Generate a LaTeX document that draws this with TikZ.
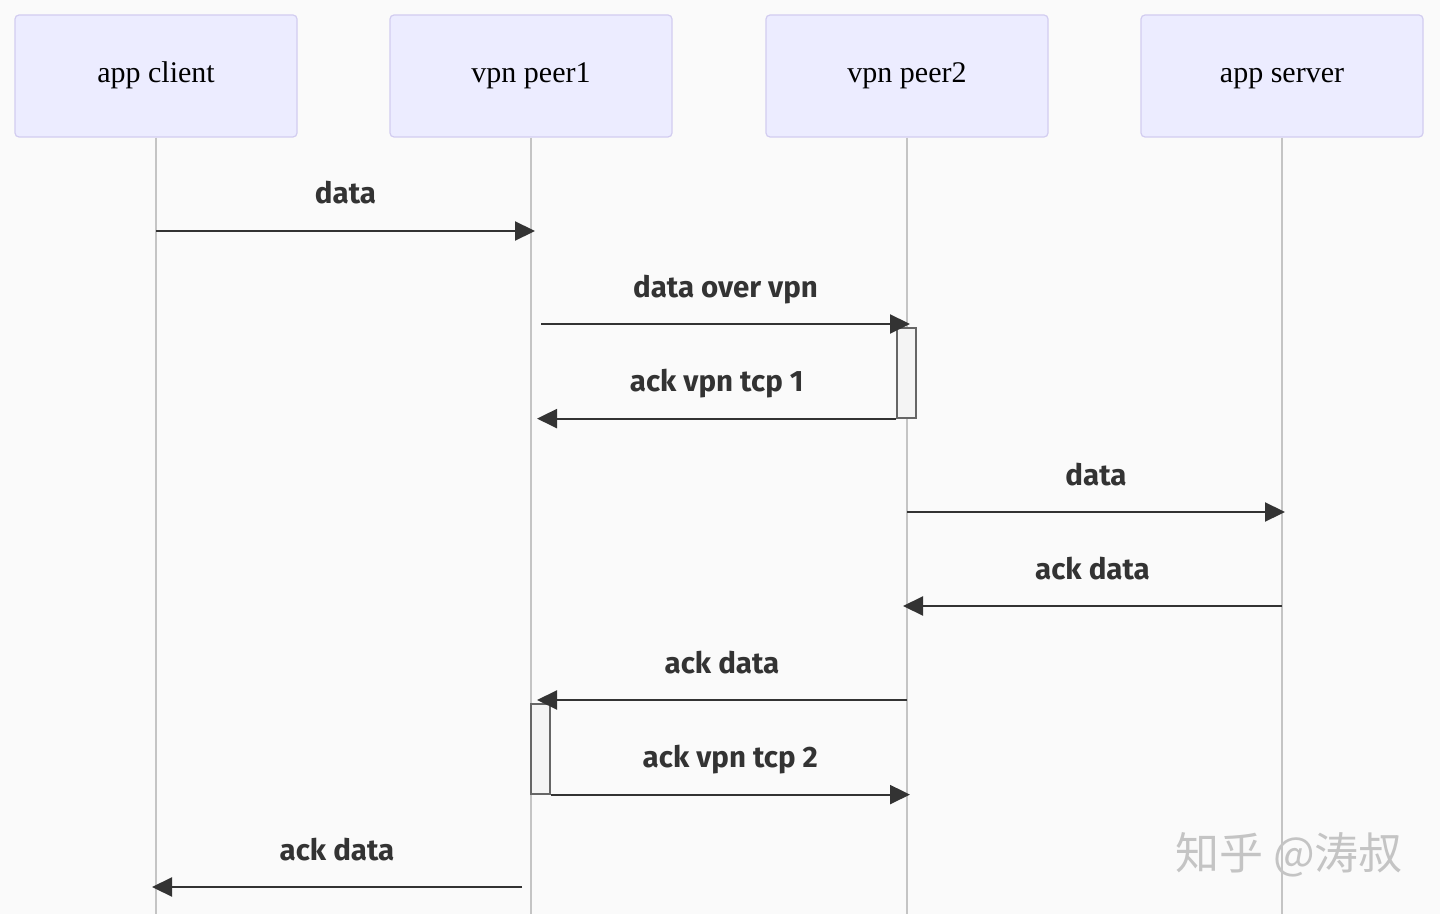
\documentclass[tikz,border=0pt]{standalone}
\usepackage{fontspec}
\setmainfont{Liberation Serif}
\newfontfamily\msgfont{Fira Sans}
\newfontfamily\cjkfont{Noto Sans CJK SC}
\usetikzlibrary{arrows.meta}
\definecolor{bgcol}{HTML}{FAFAFA}
\definecolor{actorfill}{HTML}{ECECFF}
\definecolor{actorline}{HTML}{D2CCF0}
\definecolor{lifegray}{HTML}{C4C4C4}
\definecolor{msgcol}{HTML}{333333}
\definecolor{actfill}{HTML}{F4F4F4}
\definecolor{actline}{HTML}{666666}
\definecolor{wmgray}{HTML}{C4C4C4}

\begin{document}
\begin{tikzpicture}[x = 1pt, y = -1pt,
    actor/.style = {draw = actorline, fill = actorfill, line width = 1.2pt, rounded corners = 4pt,
        minimum width = 282pt, minimum height = 122pt, text height = 21pt, text depth = 7pt,
        font = \fontsize{30}{36}\selectfont},
    life/.style = {draw = lifegray, line width = 1.3pt},
    msg/.style = {draw = msgcol, line width = 2.2pt, -{Triangle[length = 20pt, width = 19pt]}},
    msglabel/.style = {font = \msgfont\bfseries\fontsize{29.5}{34}\selectfont, text = msgcol,
        midway, anchor = base, yshift = 27pt},
    activ/.style = {draw = actline, fill = actfill, line width = 1.2pt, inner sep = 0pt,
        minimum width = 19pt, minimum height = 90pt}]
    \fill[bgcol] (0, 0) rectangle (1440, 914);
    % actors and their lifelines
    \foreach \name/\x/\txt in {client/156/app client, peer1/531/vpn peer1,
                               peer2/907/vpn peer2, server/1282/app server}{
        \node[actor] (\name) at (\x, 76) {\txt};
        \coordinate (\name end) at (\x, 914);
        \draw[life] (\name.south) -- (\name end);
    }
    % activations
    \node[activ] (act1) at (906.5, 373) {};
    \node[activ] (act2) at (540.5, 749) {};
    % messages
    \draw[msg] (client |- 0, 231) -- ([xshift = 4pt] peer1 |- 0, 231) node[msglabel] {data};
    \draw[msg] ([xshift = 10pt] peer1 |- 0, 324) -- ([xshift = 3pt] peer2 |- 0, 324) node[msglabel] {data over vpn};
    \draw[msg] (act1.south west) -- ([xshift = 6pt] peer1 |- act1.south) node[msglabel] {ack vpn tcp 1};
    \draw[msg] (peer2 |- 0, 512) -- ([xshift = 3pt] server |- 0, 512) node[msglabel] {data};
    \draw[msg] (server |- 0, 606) -- ([xshift = -4pt] peer2 |- 0, 606) node[msglabel] {ack data};
    \draw[msg] (peer2 |- 0, 700) -- ([xshift = 6pt] peer1 |- 0, 700) node[msglabel] {ack data};
    \draw[msg] (act2.south east) -- ([xshift = 3pt] peer2 |- act2.south) node[msglabel] {ack vpn tcp 2};
    \draw[msg] ([xshift = -9pt] peer1 |- 0, 887) -- ([xshift = -4pt] client |- 0, 887) node[msglabel] {ack data};
    % watermark
    \node[font = \cjkfont\fontsize{44}{50}\selectfont, text = wmgray] (mark) at (1289, 855) {知乎 @涛叔};
\end{tikzpicture}
\end{document}
